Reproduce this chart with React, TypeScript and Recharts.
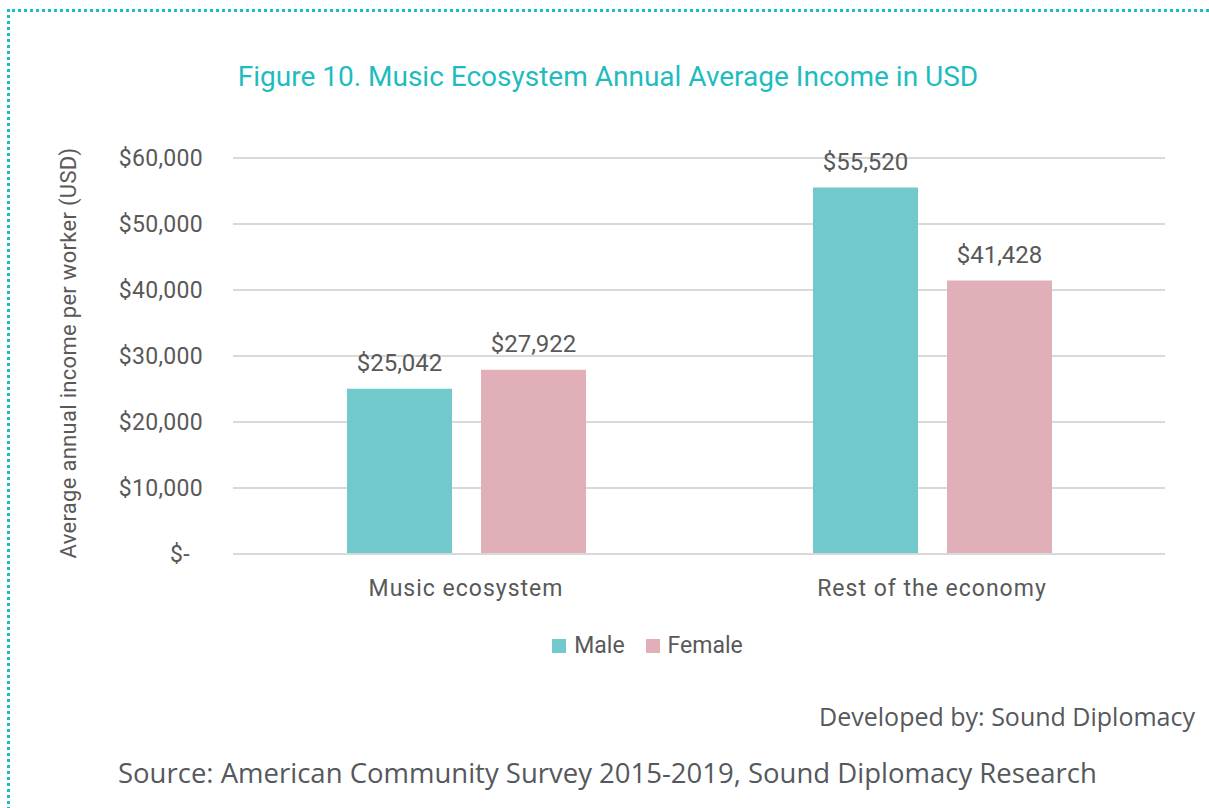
import { BarChart, Bar, XAxis, YAxis, CartesianGrid, Legend, LabelList } from "recharts";

const categories = ["Music ecosystem", "Rest of the economy"];
const seriesNames = ["Male", "Female"];
const maleValues = [25042, 55520];
const femaleValues = [27922, 41428];
const yTicks = [0, 10000, 20000, 30000, 40000, 50000, 60000];

const data = categories.map((name, i) => ({
  name,
  Male: maleValues[i],
  Female: femaleValues[i],
}));

const FONT = "Roboto, sans-serif";
const TEXT = "#595959";

const money = (v: number) => "$" + v.toLocaleString("en-US");

function YTick({ x, y, payload }: any) {
  const v = payload.value as number;
  return (
    <text
      x={v === 0 ? x - 13 : x}
      y={y}
      textAnchor="end"
      dominantBaseline="central"
      fill={TEXT}
      fontSize={23}
      letterSpacing={0.3}
      fontFamily={FONT}
    >
      {v === 0 ? "$-" : money(v)}
    </text>
  );
}

function LegendBox({ payload }: any) {
  const items = [...(payload || [])].sort(
    (a: any, b: any) => seriesNames.indexOf(a.value) - seriesNames.indexOf(b.value)
  );
  return (
    <div
      style={{
        display: "flex",
        justifyContent: "center",
        gap: 21,
        fontFamily: FONT,
        fontSize: 23,
        color: TEXT,
      }}
    >
      {items.map((p: any) => (
        <span key={p.value} style={{ display: "flex", alignItems: "center" }}>
          <span
            style={{
              width: 14,
              height: 14,
              background: p.color,
              marginRight: 8,
              display: "inline-block",
            }}
          />
          {p.value}
        </span>
      ))}
    </div>
  );
}

export default function App() {
  return (
    <div
      style={{
        position: "absolute",
        left: 0,
        top: 0,
        width: 1209,
        height: 808,
        background: "#fff",
        overflow: "hidden",
      }}
    >
      <div
        style={{
          position: "absolute",
          left: 7,
          top: 9,
          width: 1240,
          height: 840,
          borderTop: "3px dotted #1cbfc0",
          borderLeft: "3px dotted #1cbfc0",
        }}
      />
      <div
        style={{
          position: "absolute",
          top: 59,
          left: 0,
          width: 1216,
          textAlign: "center",
          fontFamily: FONT,
          fontSize: 28,
          color: "#1fbcbf",
          lineHeight: "36px",
        }}
      >
        Figure 10. Music Ecosystem Annual Average Income in USD
      </div>
      <div style={{ position: "absolute", left: 0, top: 0 }}>
        <BarChart
          width={1209}
          height={808}
          data={data}
          margin={{ top: 158, right: 44, left: 0, bottom: 194 }}
          barGap={29}
          barSize={105}
        >
          <CartesianGrid vertical={false} stroke="#d9d9d9" strokeWidth={2} />
          <XAxis
            dataKey="name"
            height={60}
            axisLine={{ stroke: "#d9d9d9", strokeWidth: 2 }}
            tickLine={false}
            tickMargin={20}
            tick={{ fill: TEXT, fontSize: 23, fontFamily: FONT, letterSpacing: 1 }}
          />
          <YAxis
            width={233}
            domain={[0, 60000]}
            ticks={yTicks}
            axisLine={false}
            tickLine={false}
            tickSize={0}
            tickMargin={30}
            tick={<YTick />}
            label={{
              content: () => (
                <text
                  x={68}
                  y={353}
                  transform="rotate(-90 68 353)"
                  textAnchor="middle"
                  dominantBaseline="central"
                  fill={TEXT}
                  fontSize={22}
                  letterSpacing={0.3}
                  fontFamily={FONT}
                >
                  Average annual income per worker (USD)
                </text>
              ),
            }}
          />
          <Legend
            layout="horizontal"
            align="center"
            verticalAlign="middle"
            content={<LegendBox />}
            wrapperStyle={{ top: 632, left: 86, width: 1123 }}
          />
          <Bar dataKey="Male" fill="#71c9cc" isAnimationActive={false}>
            <LabelList
              dataKey="Male"
              position="top"
              offset={18}
              formatter={(v: any) => money(Number(v))}
              style={{ fill: TEXT, fontSize: 24, fontFamily: FONT }}
            />
          </Bar>
          <Bar dataKey="Female" fill="#e1afb8" isAnimationActive={false}>
            <LabelList
              dataKey="Female"
              position="top"
              offset={18}
              formatter={(v: any) => money(Number(v))}
              style={{ fill: TEXT, fontSize: 24, fontFamily: FONT }}
            />
          </Bar>
        </BarChart>
      </div>
      <div
        style={{
          position: "absolute",
          right: 14,
          top: 698,
          fontFamily: "'Open Sans', sans-serif",
          fontSize: 25,
          color: "#55585c",
          lineHeight: "36px",
        }}
      >
        Developed by: Sound Diplomacy
      </div>
      <div
        style={{
          position: "absolute",
          left: 118,
          top: 753,
          fontFamily: "'Open Sans', sans-serif",
          fontSize: 27.5,
          color: "#55585c",
          lineHeight: "40px",
        }}
      >
        Source: American Community Survey 2015-2019, Sound Diplomacy Research
      </div>
    </div>
  );
}
